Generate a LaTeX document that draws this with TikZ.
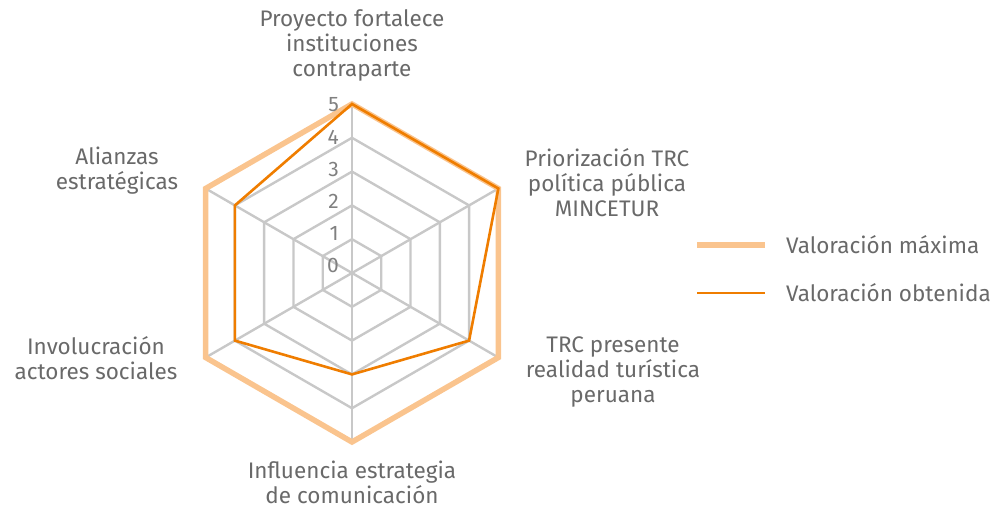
\documentclass[tikz,border=0pt]{standalone}
\usepackage{fontspec}
\setmainfont{Fira Sans}
\usepackage{tikz}
\definecolor{gridgray}{RGB}{200,200,200}
\definecolor{maxorange}{RGB}{250,196,142}
\definecolor{obtorange}{RGB}{239,125,0}
\definecolor{labelgray}{RGB}{105,105,105}
\tikzset{
	axislabel/.style={align=center,text=labelgray,font=\fontsize{22.5}{25}\selectfont,inner sep=0pt},
	levellabel/.style={anchor=east,text=labelgray!85,font=\fontsize{21}{22}\selectfont,inner sep=0pt},
	gridline/.style={draw=gridgray,line width=2.4pt,line join=miter},
	maxline/.style={draw=maxorange,line width=5.5pt,line join=miter},
	obtline/.style={draw=obtorange,line width=2.6pt,line join=miter}
}
\begin{document}
\begin{tikzpicture}[x=1pt,y=1pt]
		\useasboundingbox (-352,-236) rectangle (643,273);
		\coordinate (c) at (0,0);
		% grid points
		\foreach \k in {1,...,5}
			\foreach \a [count=\i] in {90,30,-30,-90,-150,150}
				\coordinate (g\k-\i) at (\a:{\k*33.8});
		\foreach \k in {1,...,4}
			\draw[gridline] (g\k-1) -- (g\k-2) -- (g\k-3) -- (g\k-4) -- (g\k-5) -- (g\k-6) -- cycle;
		\foreach \i in {1,...,6}
			\draw[gridline] (c) -- (g5-\i);
		% values
		\foreach \v [count=\i] in {5,5,4,3,4,4}
			\coordinate (o\i) at ({90-(\i-1)*60}:{\v*33.8});
		\draw[maxline] (g5-1) -- (g5-2) -- (g5-3) -- (g5-4) -- (g5-5) -- (g5-6) -- cycle;
		\draw[obtline] (o1) -- (o2) -- (o3) -- (o4) -- (o5) -- (o6) -- cycle;
		\foreach \k in {0,...,5}
			\node[levellabel] (n\k) at (-13,{8+32*\k}) {\k};
		% axis labels
		\node[axislabel] (l1) at (0,228) {Proyecto fortalece\\instituciones\\contraparte};
		\node[axislabel] (l2) at (255,90) {Priorización TRC\\política pública\\MINCETUR};
		\node[axislabel] (l3) at (261,-99) {TRC presente\\realidad turística\\peruana};
		\node[axislabel] (l4) at (0,-209) {Influencia estrategia\\de comunicación};
		\node[axislabel] (l5) at (-256,-85) {Involucración\\actores sociales};
		\node[axislabel] (l6) at (-235,102) {Alianzas\\estratégicas};
		% legend
		\coordinate (m1) at (345,28);
		\coordinate (m2) at (413,28);
		\coordinate (b1) at (345,-20);
		\coordinate (b2) at (413,-20);
		\draw[maxorange,line width=5.5pt] (m1) -- (m2);
		\draw[obtorange,line width=2.6pt] (b1) -- (b2);
		\node[axislabel,anchor=west] (lm) at (434,28) {Valoración máxima};
		\node[axislabel,anchor=west] (lb) at (434,-20) {Valoración obtenida};
	\end{tikzpicture}
\end{document}
